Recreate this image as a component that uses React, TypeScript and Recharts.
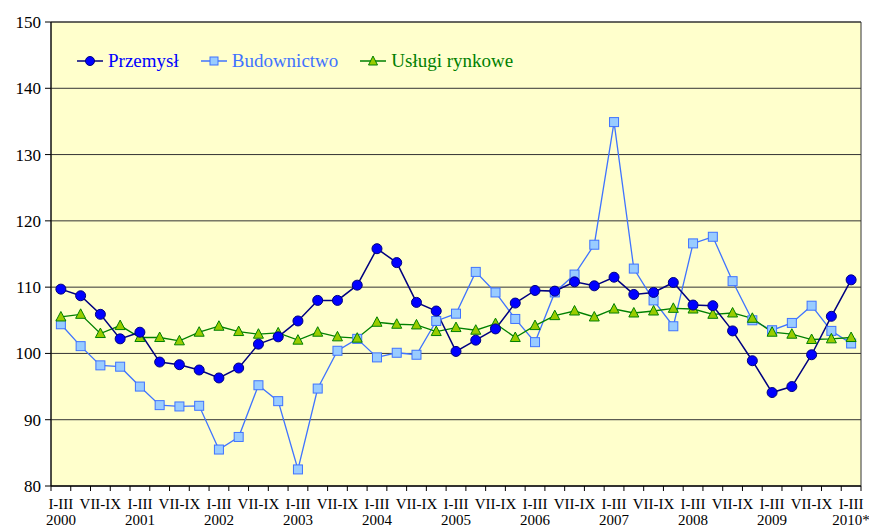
import React from "react";
import {
  LineChart,
  Line,
  XAxis,
  YAxis,
  CartesianGrid,
  Legend,
  ReferenceArea,
} from "recharts";

// lata i kwartały (2000 I-III ... 2010 I-III)
const years = ["2000", "2001", "2002", "2003", "2004", "2005", "2006", "2007", "2008", "2009", "2010*"];
const quarters = ["I-III", "IV-VI", "VII-IX", "X-XII"];

const przemysl = [
  109.7, 108.7, 105.9, 102.2, 103.2, 98.7, 98.3, 97.5, 96.3, 97.8,
  101.4, 102.5, 104.9, 108.0, 108.0, 110.3, 115.8, 113.7, 107.7, 106.4,
  100.3, 102.0, 103.7, 107.6, 109.5, 109.4, 110.8, 110.2, 111.5, 108.9,
  109.2, 110.7, 107.3, 107.2, 103.4, 98.9, 94.1, 95.0, 99.8, 105.6,
  111.1,
];

const budownictwo = [
  104.4, 101.1, 98.2, 98.0, 95.0, 92.2, 92.0, 92.1, 85.5, 87.4,
  95.2, 92.8, 82.5, 94.7, 100.4, 102.2, 99.4, 100.1, 99.8, 104.9,
  106.0, 112.3, 109.2, 105.2, 101.7, 109.2, 111.9, 116.4, 134.9, 112.8,
  108.0, 104.1, 116.6, 117.6, 110.9, 105.0, 103.5, 104.6, 107.2, 103.4,
  101.5,
];

const uslugi = [
  105.5, 105.9, 103.0, 104.2, 102.4, 102.4, 101.9, 103.2, 104.1, 103.3,
  102.9, 103.1, 102.0, 103.2, 102.5, 102.3, 104.7, 104.4, 104.3, 103.3,
  103.9, 103.5, 104.5, 102.4, 104.2, 105.7, 106.4, 105.5, 106.7, 106.1,
  106.4, 106.8, 106.7, 105.9, 106.1, 105.3, 103.2, 102.9, 102.1, 102.2,
  102.4,
];

const yTicks = [80, 90, 100, 110, 120, 130, 140, 150];

const data = przemysl.map((v, i) => ({
  x: i,
  period: quarters[i % 4],
  year: years[Math.floor(i / 4)],
  przemysl: v,
  budownictwo: budownictwo[i],
  uslugi: uslugi[i],
}));

// ticki co pół kategorii: granice (kreski) i środki (etykiety)
const xTicks = Array.from({ length: data.length * 2 + 1 }, (_, i) => i / 2 - 0.5);

const FONT = "'Liberation Serif', 'Times New Roman', Times, serif";

const COLORS = {
  przemyslLine: "#000080",
  przemyslDot: "#0000FF",
  budLine: "#3F73FF",
  budFill: "#99CCFF",
  uslLine: "#008000",
  uslFill: "#99CC00",
};

function XTick(props: any) {
  const { x, y, payload } = props;
  const v = payload.value as number;
  if (!Number.isInteger(v)) {
    return <line x1={x} y1={y - 5} x2={x} y2={y} stroke="#000" strokeWidth={1} />;
  }
  if (v % 2 !== 0) return null;
  const row = data[v];
  return (
    <g style={{ fontFamily: FONT }}>
      <text x={x} y={y + 18} textAnchor="middle" fontSize={15} fill="#000">
        {row.period}
      </text>
      {row.period === "I-III" && (
        <text x={x} y={y + 34} textAnchor="middle" fontSize={15} fill="#000">
          {row.year}
        </text>
      )}
    </g>
  );
}

function YTick(props: any) {
  const { x, y, payload } = props;
  return (
    <text
      x={x}
      y={y}
      dy={6}
      textAnchor="end"
      fontSize={17}
      fill="#000"
      style={{ fontFamily: FONT }}
    >
      {payload.value}
    </text>
  );
}

function SquareDot(props: any) {
  const { cx, cy, index } = props;
  return (
    <rect
      key={`sq-${index}`}
      x={cx - 4.5}
      y={cy - 4.5}
      width={9}
      height={9}
      fill={COLORS.budFill}
      stroke={COLORS.budLine}
      strokeWidth={1}
    />
  );
}

function TriangleDot(props: any) {
  const { cx, cy, index } = props;
  return (
    <path
      key={`tr-${index}`}
      d={`M${cx},${cy - 5.5} L${cx + 5},${cy + 4} L${cx - 5},${cy + 4} Z`}
      fill={COLORS.uslFill}
      stroke={COLORS.uslLine}
      strokeWidth={1}
    />
  );
}

const legendItems = [
  { name: "Przemysł", line: COLORS.przemyslLine, text: COLORS.przemyslDot, kind: "circle" },
  { name: "Budownictwo", line: COLORS.budLine, text: COLORS.budLine, kind: "square" },
  { name: "Usługi rynkowe", line: COLORS.uslLine, text: COLORS.uslLine, kind: "triangle" },
];

function LegendContent() {
  return (
    <div style={{ display: "flex", alignItems: "center", height: 22, fontFamily: FONT, fontSize: 19, whiteSpace: "nowrap" }}>
      {legendItems.map((item) => (
        <div key={item.name} style={{ display: "flex", alignItems: "center", marginRight: 22 }}>
          <svg width={26} height={14} style={{ marginRight: 5 }}>
            <line x1={0} y1={7} x2={26} y2={7} stroke={item.line} strokeWidth={1.5} />
            {item.kind === "circle" && (
              <circle cx={13} cy={7} r={4.5} fill={COLORS.przemyslDot} stroke={COLORS.przemyslLine} />
            )}
            {item.kind === "square" && (
              <rect x={9} y={3} width={8} height={8} fill={COLORS.budFill} stroke={COLORS.budLine} />
            )}
            {item.kind === "triangle" && (
              <path d="M13,2 L17.5,11 L8.5,11 Z" fill={COLORS.uslFill} stroke={COLORS.uslLine} />
            )}
          </svg>
          <span style={{ color: item.text, fontFamily: FONT }}>{item.name}</span>
        </div>
      ))}
    </div>
  );
}

export default function App() {
  return (
    <div style={{ position: "absolute", left: 0, top: 0, background: "#fff" }}>
      <LineChart
        width={869}
        height={531}
        data={data}
        margin={{ top: 0, right: 8, bottom: 0, left: 0 }}
      >
        <CartesianGrid vertical={false} stroke="#333" fill="#FFFFCC" fillOpacity={1} />
        <ReferenceArea x1={-0.5} x2={40.5} y1={80} y2={150} fill="none" stroke="#333" strokeWidth={1} />
        <XAxis
          dataKey="x"
          type="number"
          domain={[-0.5, 40.5]}
          ticks={xTicks}
          interval={0}
          height={45}
          tickSize={5}
          tickMargin={0}
          tickLine={false}
          axisLine={{ stroke: "#000" }}
          tick={<XTick />}
        />
        <YAxis
          domain={[80, 150]}
          ticks={yTicks}
          width={51}
          tickSize={6}
          tickMargin={4}
          axisLine={{ stroke: "#000" }}
          tickLine={{ stroke: "#000" }}
          tick={<YTick />}
        />
        {/* legenda rezerwuje 22px u góry, sama leży wewnątrz wykresu */}
        <Legend
          verticalAlign="top"
          align="left"
          content={<LegendContent />}
          wrapperStyle={{ top: 50, left: 77, width: 520, height: 22 }}
        />
        <Line
          dataKey="budownictwo"
          stroke={COLORS.budLine}
          strokeWidth={1.3}
          dot={SquareDot}
          isAnimationActive={false}
        />
        <Line
          dataKey="uslugi"
          stroke={COLORS.uslLine}
          strokeWidth={1.3}
          dot={TriangleDot}
          isAnimationActive={false}
        />
        <Line
          dataKey="przemysl"
          stroke={COLORS.przemyslLine}
          strokeWidth={1.5}
          dot={{ r: 5, fill: COLORS.przemyslDot, stroke: COLORS.przemyslLine, strokeWidth: 1 }}
          isAnimationActive={false}
        />
      </LineChart>
    </div>
  );
}
